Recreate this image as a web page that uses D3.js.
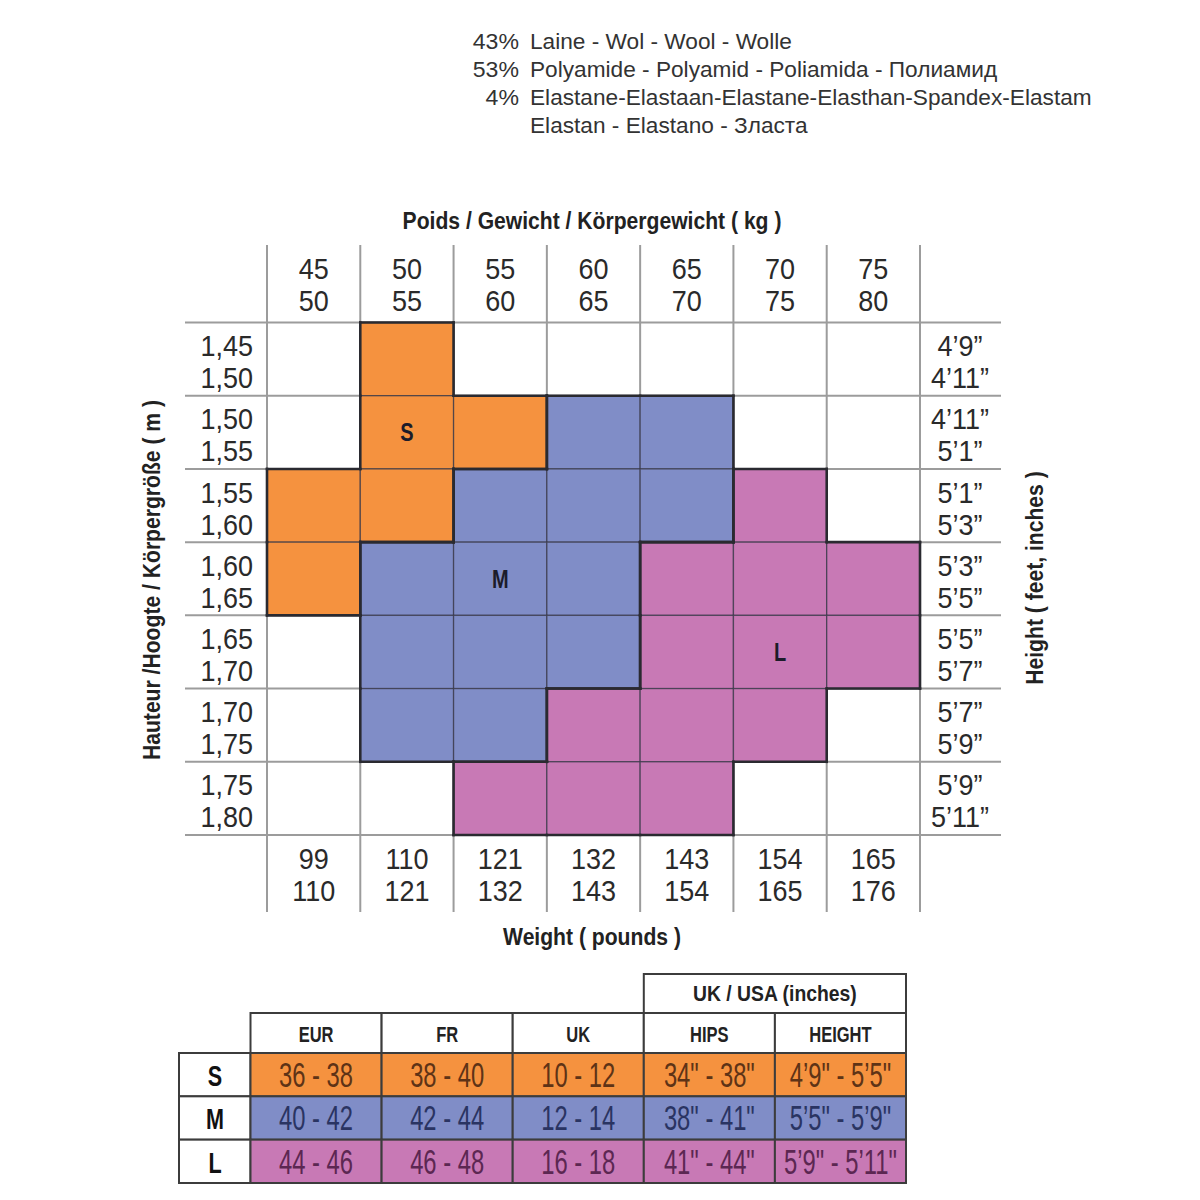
<!DOCTYPE html>
<html><head><meta charset="utf-8">
<script src="https://cdn.jsdelivr.net/npm/d3@7"></script>
<style>html,body{margin:0;padding:0;background:#fff}svg{display:block}</style>
</head><body>
<script>
// ---------- data ----------
const composition = [
  ["43%", "Laine - Wol - Wool - Wolle"],
  ["53%", "Polyamide - Polyamid - Poliamida - Полиамид"],
  ["4%", "Elastane-Elastaan-Elastane-Elasthan-Spandex-Elastam"],
  ["", "Elastan - Elastano - Зласта"]
];
const kgLow  = ["45","50","55","60","65","70","75"];
const kgHigh = ["50","55","60","65","70","75","80"];
const lbLow  = ["99","110","121","132","143","154","165"];
const lbHigh = ["110","121","132","143","154","165","176"];
const mLow   = ["1,45","1,50","1,55","1,60","1,65","1,70","1,75"];
const mHigh  = ["1,50","1,55","1,60","1,65","1,70","1,75","1,80"];
const ftLow  = ["4’9”","4’11”","5’1”","5’3”","5’5”","5’7”","5’9”"];
const ftHigh = ["4’11”","5’1”","5’3”","5’5”","5’7”","5’9”","5’11”"];
// size per (height row, weight column)
const sizeGrid = [
  "-S-----",
  "-SSMM--",
  "SSMMML-",
  "SMMMLLL",
  "-MMMLLL",
  "-MMLLL-",
  "--LLL--"
];
const sizeLabels = [{s:"S", r:1, c:1}, {s:"M", r:3, c:2}, {s:"L", r:4, c:5}];
const sizes = ["S","M","L"];
const tableCols = ["EUR","FR","UK","HIPS","HEIGHT"];
const eurVals    = ["36 - 38","40 - 42","44 - 46"];
const frVals     = ["38 - 40","42 - 44","46 - 48"];
const ukVals     = ["10 - 12","12 - 14","16 - 18"];
const hipsVals   = ["34\" - 38\"","38\" - 41\"","41\" - 44\""];
const heightVals = ["4’9\" - 5’5\"","5’5\" - 5’9\"","5’9\" - 5’11\""];
const titleTop = "Poids / Gewicht / Körpergewicht ( kg )";
const titleBottom = "Weight ( pounds )";
const titleLeft = "Hauteur /Hoogte / Körpergröße ( m )";
const titleRight = "Height ( feet, inches )";
const groupHeader = "UK / USA (inches)";

// ---------- style ----------
const fill = {S:"#F5923F", M:"#808DC7", L:"#C879B5"};
const tableText = {S:"#5e3316", M:"#2a3462", L:"#5c2752"};
const FONT = "'Liberation Sans', Arial, sans-serif";

const svg = d3.select("body").append("svg").attr("width",1200).attr("height",1200);
svg.append("rect").attr("width",1200).attr("height",1200).attr("fill","#fff");

function txt(g, x, y, s, o) {
  o = o || {};
  return g.append("text")
    .attr("transform", `translate(${x},${y}) rotate(${o.rot||0}) scale(${o.sx||1},1)`)
    .attr("text-anchor", o.anchor || "middle")
    .attr("font-family", FONT)
    .attr("font-size", o.size || 20)
    .attr("font-weight", o.weight || "normal")
    .attr("fill", o.fill || "#222")
    .text(s);
}

// ---------- composition text ----------
const comp = svg.append("g");
composition.forEach((d,i) => {
  const y = 49 + i*28;
  if (d[0]) txt(comp, 519, y, d[0], {anchor:"end", size:22, sx:1.05, fill:"#333"});
  txt(comp, 530, y, d[1], {anchor:"start", size:22, sx:1.03, fill:"#333"});
});

// ---------- grid ----------
const idx = d3.range(7);
const x = d3.scaleBand().domain(idx).range([267, 920]);
const y = d3.scaleBand().domain(idx).range([322.5, 835]);
const g = svg.append("g");
const gridColor = "#9c9c9c";

// horizontal lines
const yEdges = idx.map(i => y(i)).concat([y.range()[1]]);
g.selectAll("line.h").data(yEdges).join("line")
  .attr("x1",185).attr("x2",1001).attr("y1",d=>d).attr("y2",d=>d)
  .attr("stroke",gridColor).attr("stroke-width",2);
// vertical lines
const xEdges = idx.map(i => x(i)).concat([x.range()[1]]);
g.selectAll("line.v").data(xEdges).join("line")
  .attr("x1",d=>d).attr("x2",d=>d).attr("y1",245).attr("y2",912)
  .attr("stroke",gridColor).attr("stroke-width",2);

// cells
const cells = [];
sizeGrid.forEach((row,r) => row.split("").forEach((s,c) => { if (s !== "-") cells.push({r,c,s}); }));
g.selectAll("rect.cell").data(cells).join("rect")
  .attr("x",d=>x(d.c)).attr("y",d=>y(d.r))
  .attr("width",x.bandwidth()).attr("height",y.bandwidth())
  .attr("fill",d=>fill[d.s])
  .attr("stroke","#3a3a4a").attr("stroke-opacity",0.75).attr("stroke-width",1.3);

// region outlines
const at = (r,c) => (r<0||r>6||c<0||c>6) ? "-" : sizeGrid[r][c];
const edges = [];
cells.forEach(d => {
  const x0 = x(d.c), x1 = x0 + x.bandwidth(), y0 = y(d.r), y1 = y0 + y.bandwidth();
  if (at(d.r-1,d.c) !== d.s) edges.push([x0,y0,x1,y0]);
  if (at(d.r+1,d.c) !== d.s) edges.push([x0,y1,x1,y1]);
  if (at(d.r,d.c-1) !== d.s) edges.push([x0,y0,x0,y1]);
  if (at(d.r,d.c+1) !== d.s) edges.push([x1,y0,x1,y1]);
});
g.selectAll("line.edge").data(edges).join("line")
  .attr("x1",d=>d[0]).attr("y1",d=>d[1]).attr("x2",d=>d[2]).attr("y2",d=>d[3])
  .attr("stroke","#2a2a30").attr("stroke-width",2.6).attr("stroke-linecap","square");

// size letters in grid
sizeLabels.forEach(d => {
  txt(g, x(d.c)+x.bandwidth()/2, y(d.r)+y.bandwidth()/2+9, d.s, {size:25, weight:"bold", sx:0.8, fill:"#1c1c2a"});
});

// axis labels
const numOpt = {size:30, sx:0.9, fill:"#2a2a2a"};
idx.forEach(i => {
  const cx = x(i) + x.bandwidth()/2;
  txt(g, cx, 279, kgLow[i], numOpt);
  txt(g, cx, 311, kgHigh[i], numOpt);
  txt(g, cx, 869, lbLow[i], numOpt);
  txt(g, cx, 901, lbHigh[i], numOpt);
  const cy = y(i) + y.bandwidth()/2;
  txt(g, 253, cy-3, mLow[i], Object.assign({anchor:"end"}, numOpt));
  txt(g, 253, cy+29, mHigh[i], Object.assign({anchor:"end"}, numOpt));
  txt(g, 960, cy-3, ftLow[i], numOpt);
  txt(g, 960, cy+29, ftHigh[i], numOpt);
});

// titles
const tOpt = {size:24, weight:"bold", sx:0.88, fill:"#222"};
txt(g, 592, 229, titleTop, tOpt);
txt(g, 592, 945, titleBottom, tOpt);
txt(g, 160, 580, titleLeft, Object.assign({rot:-90}, tOpt));
txt(g, 1043, 578, titleRight, Object.assign({rot:-90}, tOpt));

// ---------- size table ----------
const tb = svg.append("g");
const tx = d3.scaleBand().domain(tableCols).range([250.5, 906]);
const rowY = d3.scaleBand().domain(sizes).range([1053, 1183]);
const headTop = 1013, groupTop = 974;
const lineC = "#3c3c3c";
const colVals = {EUR:eurVals, FR:frVals, UK:ukVals, HIPS:hipsVals, HEIGHT:heightVals};

// group header
tb.append("rect").attr("x",tx("HIPS")).attr("y",groupTop)
  .attr("width",tx.bandwidth()*2).attr("height",headTop-groupTop)
  .attr("fill","#fff").attr("stroke",lineC).attr("stroke-width",2);
txt(tb, tx("HIPS")+tx.bandwidth(), groupTop+27, groupHeader, {size:22, weight:"bold", sx:0.88, fill:"#222"});

// column headers
tb.selectAll("rect.hd").data(tableCols).join("rect")
  .attr("x",d=>tx(d)).attr("y",headTop).attr("width",tx.bandwidth()).attr("height",rowY.range()[0]-headTop)
  .attr("fill","#fff").attr("stroke",lineC).attr("stroke-width",2);
tableCols.forEach(c => txt(tb, tx(c)+tx.bandwidth()/2, headTop+29, c, {size:22, weight:"bold", sx:0.75, fill:"#222"}));

// rows
sizes.forEach((s,i) => {
  tb.append("rect").attr("x",179).attr("y",rowY(s)).attr("width",tx.range()[0]-179).attr("height",rowY.bandwidth())
    .attr("fill","#fff").attr("stroke",lineC).attr("stroke-width",2);
  txt(tb, 215, rowY(s)+33, s, {size:30, weight:"bold", sx:0.72, fill:"#111"});
  tableCols.forEach(c => {
    tb.append("rect").attr("x",tx(c)).attr("y",rowY(s)).attr("width",tx.bandwidth()).attr("height",rowY.bandwidth())
      .attr("fill",fill[s]).attr("stroke",lineC).attr("stroke-width",2);
    txt(tb, tx(c)+tx.bandwidth()/2, rowY(s)+34, colVals[c][i], {size:35, sx:0.68, fill:tableText[s]});
  });
});
</script>
</body></html>
